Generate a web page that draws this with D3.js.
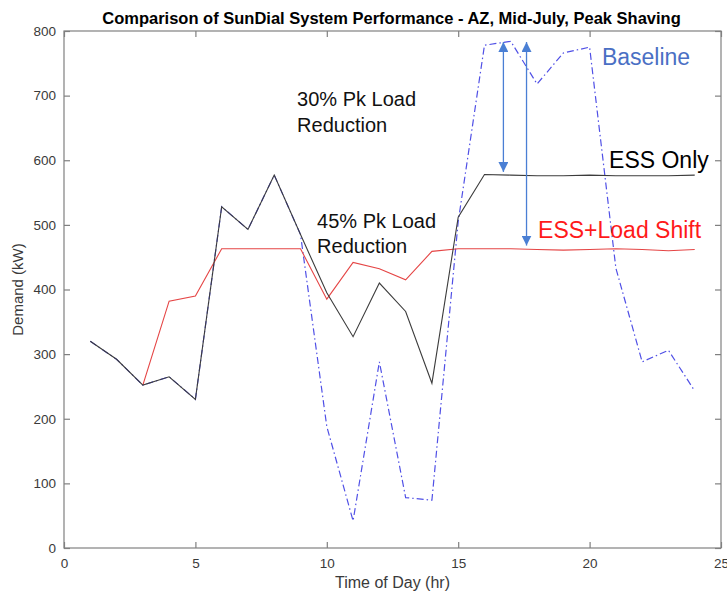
<!DOCTYPE html>
<html>
<head>
<meta charset="utf-8">
<script src="https://cdn.jsdelivr.net/npm/d3@7"></script>
<style>
  body { margin: 0; background: #fff; }
  text { font-family: "Liberation Sans", Arial, Helvetica, sans-serif; }
</style>
</head>
<body>
<div id="root"></div>
<script>
// hour of day, 1..24
const hours = [1, 2, 3, 4, 5, 6, 7, 8, 9, 10, 11, 12, 13, 14, 15, 16, 17, 18, 19, 20, 21, 22, 23, 24];
const baseline = [320, 292, 252, 265, 230, 528, 493, 577, 485, 188, 42, 288, 78, 74, 505, 778, 784, 718, 766, 775, 433, 288, 306, 243];
const essOnly = [320, 292, 252, 265, 230, 528, 493, 577, 485, 395, 327, 410, 366, 255, 512, 578, 577, 576, 576, 577, 576, 576, 576, 577];
const loadShift = [null, null, 252, 382, 390, 463, 463, 463, 463, 385, 442, 432, 415, 459, 463, 463, 463, 462, 461, 462, 463, 462, 460, 462];
const xTicks = [0, 5, 10, 15, 20, 25];
const yTicks = [0, 100, 200, 300, 400, 500, 600, 700, 800];

const width = 727, height = 594;
const margin = { left: 64, top: 31, right: 6, bottom: 46 };
const innerW = width - margin.left - margin.right;
const innerH = height - margin.top - margin.bottom;

const svg = d3.select("#root").append("svg")
  .attr("width", width)
  .attr("height", height);

const x = d3.scaleLinear().domain([0, 25]).range([margin.left, margin.left + innerW]);
const y = d3.scaleLinear().domain([0, 800]).range([margin.top + innerH, margin.top]);

const axisColor = "#808080";
const tickLen = 6;

// box around the plot area
svg.append("rect")
  .attr("x", x(0)).attr("y", y(800))
  .attr("width", x(25) - x(0)).attr("height", y(0) - y(800))
  .attr("fill", "none").attr("stroke", axisColor).attr("stroke-width", 1.2);

// axes, ticks pointing inward, mirrored on top / right
const styleAxis = (g) => {
  g.select(".domain").remove();
  g.selectAll(".tick line").attr("stroke", axisColor).attr("stroke-width", 1.2);
  g.selectAll(".tick text").attr("fill", "#3a3a3a").style("font-size", "13.5px");
};

svg.append("g").attr("transform", `translate(0,${y(0)})`)
  .call(d3.axisBottom(x).tickValues(xTicks).tickSize(-tickLen).tickPadding(10))
  .call(styleAxis);
svg.append("g").attr("transform", `translate(0,${y(800)})`)
  .call(d3.axisTop(x).tickValues(xTicks).tickSize(-tickLen).tickFormat(""))
  .call(styleAxis);
svg.append("g").attr("transform", `translate(${x(0)},0)`)
  .call(d3.axisLeft(y).tickValues(yTicks).tickSize(-tickLen).tickPadding(8))
  .call(styleAxis);
svg.append("g").attr("transform", `translate(${x(25)},0)`)
  .call(d3.axisRight(y).tickValues(yTicks).tickSize(-tickLen).tickFormat(""))
  .call(styleAxis);

// axis labels and title
svg.append("text")
  .attr("x", (x(0) + x(25)) / 2).attr("y", 588)
  .attr("text-anchor", "middle").attr("fill", "#3a3a3a")
  .style("font-size", "16px")
  .text("Time of Day (hr)");

svg.append("text")
  .attr("transform", `translate(23,${(y(0) + y(800)) / 2}) rotate(-90)`)
  .attr("text-anchor", "middle").attr("fill", "#3a3a3a")
  .style("font-size", "15px")
  .text("Demand (kW)");

svg.append("text")
  .attr("x", (x(0) + x(25)) / 2 - 1).attr("y", 24)
  .attr("text-anchor", "middle").attr("fill", "#000")
  .style("font-size", "16.5px").style("font-weight", "bold")
  .text("Comparison of SunDial System Performance - AZ, Mid-July, Peak Shaving");

// lines
const line = (vals) => d3.line()
  .defined((d, i) => vals[i] != null)
  .x((d) => x(d))
  .y((d, i) => y(vals[i]))(hours);

svg.append("path")
  .attr("d", line(baseline))
  .attr("fill", "none")
  .attr("stroke", "#5050e6")
  .attr("stroke-width", 1.2)
  .attr("stroke-dasharray", "7,3,1.5,3");

svg.append("path")
  .attr("d", line(loadShift))
  .attr("fill", "none")
  .attr("stroke", "#e54545")
  .attr("stroke-width", 1.1);

svg.append("path")
  .attr("d", line(essOnly))
  .attr("fill", "none")
  .attr("stroke", "#3c3c3c")
  .attr("stroke-width", 1.1);

// double headed arrows
const arrowColor = "#4a7fd4";
svg.append("defs").append("marker")
  .attr("id", "head")
  .attr("viewBox", "0 0 10 10")
  .attr("refX", 10).attr("refY", 5)
  .attr("markerWidth", 10).attr("markerHeight", 10)
  .attr("markerUnits", "userSpaceOnUse")
  .attr("orient", "auto-start-reverse")
  .append("path")
  .attr("d", "M0,0 L10,5 L0,10 Z")
  .attr("fill", arrowColor);

const arrows = [
  { hr: 16.72, from: 783, to: 582 },
  { hr: 17.6, from: 783, to: 468 }
];
svg.selectAll(".arrow").data(arrows).enter().append("line")
  .attr("class", "arrow")
  .attr("x1", (d) => x(d.hr)).attr("x2", (d) => x(d.hr))
  .attr("y1", (d) => y(d.from)).attr("y2", (d) => y(d.to))
  .attr("stroke", arrowColor).attr("stroke-width", 1.3)
  .attr("marker-start", "url(#head)")
  .attr("marker-end", "url(#head)");

// annotations
const notes = [
  { hr: 20.47, val: 747, text: "Baseline", color: "#4a6fc4", size: 23 },
  { hr: 20.74, val: 588, text: "ESS Only", color: "#000", size: 23 },
  { hr: 18.04, val: 480, text: "ESS+Load Shift", color: "#ff1a1a", size: 23 },
  { hr: 8.87, val: 684, text: "30% Pk Load", color: "#111", size: 20 },
  { hr: 8.87, val: 644, text: "Reduction", color: "#111", size: 20 },
  { hr: 9.63, val: 495, text: "45% Pk Load", color: "#111", size: 20 },
  { hr: 9.63, val: 456, text: "Reduction", color: "#111", size: 20 }
];
svg.selectAll(".note").data(notes).enter().append("text")
  .attr("class", "note")
  .attr("x", (d) => x(d.hr)).attr("y", (d) => y(d.val))
  .attr("fill", (d) => d.color)
  .style("font-size", (d) => d.size + "px")
  .text((d) => d.text);
</script>
</body>
</html>
